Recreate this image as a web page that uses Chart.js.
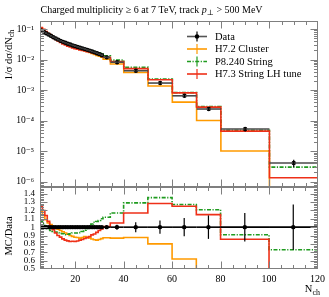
<!DOCTYPE html>
<html>
<head>
<meta charset="utf-8">
<title>Charged multiplicity</title>
<script src="https://cdn.jsdelivr.net/npm/chart.js@4.4.1/dist/chart.umd.min.js"></script>
<style>
  html, body { margin: 0; padding: 0; background: #fff; }
  #wrap { position: relative; width: 329px; height: 297px; }
  #wrap canvas { position: absolute; left: 0; top: 0; }
</style>
</head>
<body>
<div id="wrap">
  <canvas id="mainPlot" width="329" height="297"></canvas>
  <canvas id="ratioPlot" width="329" height="297"></canvas>
</div>
<script>
// bin edges in N_ch
const binEdges = [5.5, 6.5, 7.5, 8.5, 9.5, 10.5, 11.5, 12.5, 13.5, 14.5, 15.5, 16.5, 17.5, 18.5,
  19.5, 20.5, 21.5, 22.5, 23.5, 24.5, 25.5, 26.5, 27.5, 28.5, 29.5, 30.5, 31.5, 34.5,
  40, 50, 60, 70, 80, 100, 120];

// 1/sigma dsigma/dNch
const dataVals = [0.090, 0.082, 0.073, 0.066, 0.060, 0.054, 0.049, 0.045, 0.041, 0.038,
  0.0355, 0.033, 0.031, 0.029, 0.0275, 0.026, 0.0245, 0.0232, 0.0220, 0.0208, 0.0196,
  0.0184, 0.0172, 0.0161, 0.0150, 0.0139, 0.0118, 0.0082, 0.0043, 0.0017, 0.00065,
  0.00024, 0.000053, 0.0000041];
// relative errors on data
const dataErr = [0.01, 0.01, 0.01, 0.01, 0.01, 0.01, 0.01, 0.01, 0.01, 0.01, 0.01, 0.01,
  0.01, 0.01, 0.01, 0.01, 0.01, 0.01, 0.01, 0.01, 0.01, 0.01, 0.01, 0.01, 0.01, 0.01,
  0.02, 0.03, 0.06, 0.08, 0.11, 0.14, 0.17, 0.27];

const h72Cluster = [0.1071, 0.0935, 0.0796, 0.0693, 0.0618, 0.0545, 0.0485, 0.0439, 0.0394,
  0.0359, 0.0330, 0.0302, 0.0279, 0.0258, 0.0242, 0.0228, 0.0213, 0.0203, 0.0195, 0.0183,
  0.0171, 0.0158, 0.0146, 0.0136, 0.0128, 0.0120, 0.0103, 0.00713, 0.00377, 0.00136,
  0.000403, 0.000101, 0.0000101, 0];
const p8String = [0.0963, 0.0853, 0.0737, 0.0647, 0.0576, 0.0513, 0.0461, 0.0419, 0.0379,
  0.0350, 0.0323, 0.0302, 0.0285, 0.0270, 0.0256, 0.0242, 0.0229, 0.0220, 0.0212, 0.0205,
  0.0198, 0.0191, 0.0182, 0.0172, 0.0162, 0.0153, 0.0132, 0.00959, 0.00555, 0.00230,
  0.000826, 0.000290, 0.0000482, 0.00000299];
const h73StringLH = [0.1125, 0.0984, 0.0832, 0.0706, 0.0606, 0.0524, 0.0456, 0.0405, 0.0361,
  0.0327, 0.0300, 0.0276, 0.0257, 0.0241, 0.0228, 0.0217, 0.0207, 0.0198, 0.0190, 0.0182,
  0.0174, 0.0167, 0.0158, 0.0151, 0.0144, 0.0136, 0.0119, 0.00861, 0.00503, 0.00218,
  0.000813, 0.000276, 0.0000453, 0.00000135];

const xTicks = [20, 40, 60, 80, 100, 120];
const logTicks = [1e-6, 1e-5, 1e-4, 1e-3, 1e-2, 1e-1];
const logTickLabels = ['10⁻⁶', '10⁻⁵', '10⁻⁴', '10⁻³', '10⁻²', '10⁻¹'];
const ratioTicks = [0.5, 0.6, 0.7, 0.8, 0.9, 1, 1.1, 1.2, 1.3, 1.4];

const mainYMin = 6.7e-7, mainYMax = 0.183;
const ratioMin = 0.5, ratioMax = 1.48;

const serif = "'Liberation Serif', 'DejaVu Serif', serif";
Chart.defaults.font.family = serif;
Chart.defaults.color = '#000';
Chart.defaults.animation = false;

const cOrange = '#ff9a00', cGreen = '#1f9b1f', cRed = '#ee3018';
const greenDash = [4, 1.5, 1.2, 1.5];
const frameColor = '#7f7f7f';

// step histogram points, a bin with zero content falls off the bottom
function stepPts(vals, floor) {
  const pts = vals.map((v, i) => ({ x: binEdges[i], y: v > 0 ? v : floor }));
  const last = pts[pts.length - 1];
  pts.push({ x: binEdges[binEdges.length - 1], y: last.y });
  return pts;
}
const centres = dataVals.map((v, i) => (binEdges[i] + binEdges[i + 1]) / 2);

function histDs(label, pts, color, dash) {
  return { label, data: pts, borderColor: color, borderWidth: 1.6, borderDash: dash || [],
    stepped: 'before', pointRadius: 0, fill: false };
}

// rich text helper: parts drawn one after the other
function richWidth(ctx, parts) {
  let w = 0;
  parts.forEach(p => { ctx.font = p.f; w += ctx.measureText(p.t).width; });
  return w;
}
function drawRich(ctx, parts, x, y) {
  parts.forEach(p => {
    ctx.font = p.f;
    ctx.fillText(p.t, x, y + (p.dy || 0));
    x += ctx.measureText(p.t).width;
  });
}

const frameTicks = {
  id: 'frameTicks',
  afterDraw(chart, args, o) {
    const { ctx, chartArea: a } = chart;
    const sx = chart.scales.x, sy = chart.scales.y;
    const L = Math.round(a.left) + 0.5, R = Math.round(a.right) - 0.5;
    const T = Math.round(a.top) + 0.5, B = Math.round(a.bottom) - 0.5;
    ctx.save();
    ctx.strokeStyle = frameColor;
    ctx.lineWidth = 1;
    ctx.beginPath();
    for (let v = 10; v < 120; v += 5) {
      const px = Math.round(sx.getPixelForValue(v)) + 0.5;
      const len = v % 20 === 0 ? 7 : 3.5;
      ctx.moveTo(px, T); ctx.lineTo(px, T + len);
      ctx.moveTo(px, B); ctx.lineTo(px, B - len);
    }
    o.yTicks.forEach(t => {
      const py = Math.round(sy.getPixelForValue(t.v)) + 0.5;
      if (py < T || py > B) return;
      ctx.moveTo(L, py); ctx.lineTo(L + t.len, py);
      ctx.moveTo(R, py); ctx.lineTo(R - t.len, py);
    });
    ctx.stroke();
    ctx.strokeRect(L, T, R - L, B - T);
    ctx.restore();
  }
};

const errBars = {
  id: 'errBars',
  afterDatasetsDraw(chart, args, o) {
    const { ctx } = chart;
    const sx = chart.scales.x, sy = chart.scales.y;
    ctx.save();
    o.vals.forEach((v, i) => {
      const y = sy.getPixelForValue(v);
      ctx.strokeStyle = o.hColor;
      ctx.lineWidth = o.hWidth;
      ctx.beginPath();
      ctx.moveTo(sx.getPixelForValue(binEdges[i]), y);
      ctx.lineTo(sx.getPixelForValue(binEdges[i + 1]), y);
      ctx.stroke();
      const xc = sx.getPixelForValue(centres[i]);
      ctx.strokeStyle = '#000';
      ctx.lineWidth = 1.2;
      ctx.beginPath();
      ctx.moveTo(xc, sy.getPixelForValue(v * (1 - dataErr[i])));
      ctx.lineTo(xc, sy.getPixelForValue(v * (1 + dataErr[i])));
      ctx.stroke();
    });
    ctx.restore();
  }
};

const mainText = {
  id: 'mainText',
  afterDraw(chart) {
    const ctx = chart.ctx;
    ctx.save();
    ctx.fillStyle = '#000';
    ctx.textBaseline = 'alphabetic';
    drawRich(ctx, [
      { t: 'Charged multiplicity ≥ 6 at 7 TeV, track ', f: '10px ' + serif },
      { t: 'p', f: 'italic 10px ' + serif },
      { t: '⊥', f: '7.5px ' + serif, dy: 2 },
      { t: ' > 500 MeV', f: '10px ' + serif }
    ], 40.5, 12.5);

    const yl = [
      { t: '1/σ dσ/dN', f: '10.5px ' + serif },
      { t: 'ch', f: '8px ' + serif, dy: 2.5 }
    ];
    ctx.translate(11.5, 55);
    ctx.rotate(-Math.PI / 2);
    drawRich(ctx, yl, -richWidth(ctx, yl) / 2, 0);
    ctx.restore();

    // legend
    const rows = [
      { label: 'Data', color: '#555', data: true },
      { label: 'H7.2 Cluster', color: cOrange },
      { label: 'P8.240 String', color: cGreen, dash: greenDash },
      { label: 'H7.3 String LH tune', color: cRed }
    ];
    ctx.save();
    ctx.font = '10.5px ' + serif;
    ctx.textBaseline = 'middle';
    rows.forEach((r, i) => {
      const y = 36.5 + i * 12.5;
      ctx.strokeStyle = r.color;
      ctx.lineWidth = 1.6;
      ctx.setLineDash(r.dash || []);
      ctx.beginPath(); ctx.moveTo(187, y); ctx.lineTo(207, y); ctx.stroke();
      ctx.setLineDash([]);
      ctx.strokeStyle = r.data ? '#000' : r.color;
      ctx.lineWidth = 1.2;
      ctx.beginPath(); ctx.moveTo(197, y - 5); ctx.lineTo(197, y + 5); ctx.stroke();
      if (r.data) {
        ctx.fillStyle = '#000';
        ctx.beginPath(); ctx.arc(197, y, 2.2, 0, Math.PI * 2); ctx.fill();
      }
      ctx.fillStyle = '#000';
      ctx.fillText(r.label, 215, y + 0.5);
    });
    ctx.restore();
  }
};

const ratioText = {
  id: 'ratioText',
  afterDraw(chart) {
    const ctx = chart.ctx;
    ctx.save();
    ctx.fillStyle = '#000';
    const xl = [
      { t: 'N', f: '10.5px ' + serif },
      { t: 'ch', f: '8px ' + serif, dy: 2.5 }
    ];
    drawRich(ctx, xl, 320 - richWidth(ctx, xl), 292);
    ctx.font = '10.5px ' + serif;
    ctx.translate(11.5, 236);
    ctx.rotate(-Math.PI / 2);
    ctx.textAlign = 'center';
    ctx.fillText('MC/Data', 0, 0);
    ctx.restore();
  }
};

// minor / major tick lists for the frames
const logFrameTicks = [];
for (let d = -7; d <= 0; d++) {
  for (let m = 1; m <= 9; m++) {
    const v = m * Math.pow(10, d);
    if (v >= mainYMin && v <= mainYMax) logFrameTicks.push({ v, len: m === 1 ? 7 : 3.5 });
  }
}
const ratioFrameTicks = [];
for (let k = 25; k <= 74; k++) {
  ratioFrameTicks.push({ v: k * 0.02, len: k % 5 === 0 ? 7 : 3.5 });
}

new Chart(document.getElementById('mainPlot'), {
  type: 'line',
  data: {
    datasets: [
      { label: 'Data', data: dataVals.map((v, i) => ({ x: centres[i], y: v })), showLine: false,
        pointRadius: 2.2, pointBackgroundColor: '#000', pointBorderWidth: 0 },
      histDs('H7.3 String LH tune', stepPts(h73StringLH, mainYMin / 10), cRed),
      histDs('P8.240 String', stepPts(p8String, mainYMin / 10), cGreen, greenDash),
      histDs('H7.2 Cluster', stepPts(h72Cluster, mainYMin / 10), cOrange)
    ]
  },
  options: {
    responsive: false,
    events: [],
    layout: { padding: { left: 0, top: 21, right: 11, bottom: 110 } },
    scales: {
      x: { type: 'linear', min: 5.5, max: 120, display: false, bounds: 'data' },
      y: {
        type: 'logarithmic', min: mainYMin, max: mainYMax, bounds: 'data',
        afterBuildTicks: s => { s.ticks = logTicks.map(v => ({ value: v })); },
        afterFit: s => { s.width = 40; },
        grid: { display: false, drawTicks: false },
        border: { display: false },
        ticks: { autoSkip: false, padding: 6, font: { size: 9.5 }, callback: (v, i) => logTickLabels[i] }
      }
    },
    plugins: {
      legend: { display: false },
      tooltip: { enabled: false },
      frameTicks: { yTicks: logFrameTicks },
      errBars: { vals: dataVals, hColor: '#4a4a4a', hWidth: 1.6 }
    }
  },
  plugins: [frameTicks, errBars, mainText]
});

const ratioOf = mc => mc.map((v, i) => v / dataVals[i]);
const ones = dataVals.map(v => v / v);

new Chart(document.getElementById('ratioPlot'), {
  type: 'line',
  data: {
    datasets: [
      { label: 'Data', data: ones.map((v, i) => ({ x: centres[i], y: v })), showLine: false,
        pointRadius: 2.2, pointBackgroundColor: '#000', pointBorderWidth: 0 },
      histDs('H7.3 String LH tune', stepPts(ratioOf(h73StringLH), -1), cRed),
      histDs('P8.240 String', stepPts(ratioOf(p8String), -1), cGreen, greenDash),
      histDs('H7.2 Cluster', stepPts(ratioOf(h72Cluster), -1), cOrange)
    ]
  },
  options: {
    responsive: false,
    events: [],
    layout: { padding: { left: 0, top: 187, right: 11, bottom: 0 } },
    scales: {
      x: {
        type: 'linear', min: 5.5, max: 120, bounds: 'data',
        afterBuildTicks: s => { s.ticks = xTicks.map(v => ({ value: v })); },
        afterFit: s => { s.height = 28; },
        grid: { display: false, drawTicks: false },
        border: { display: false },
        ticks: { autoSkip: false, padding: 4, maxRotation: 0, font: { size: 10 } }
      },
      y: {
        type: 'linear', min: ratioMin, max: ratioMax, bounds: 'data',
        afterBuildTicks: s => { s.ticks = ratioTicks.map(v => ({ value: v })); },
        afterFit: s => { s.width = 40; },
        grid: { display: false, drawTicks: false },
        border: { display: false },
        ticks: { autoSkip: false, padding: 5, font: { size: 9 }, callback: v => String(+v.toFixed(1)) }
      }
    },
    plugins: {
      legend: { display: false },
      tooltip: { enabled: false },
      frameTicks: { yTicks: ratioFrameTicks },
      errBars: { vals: ones, hColor: '#000', hWidth: 1.6 }
    }
  },
  plugins: [frameTicks, errBars, ratioText]
});
</script>
</body>
</html>
